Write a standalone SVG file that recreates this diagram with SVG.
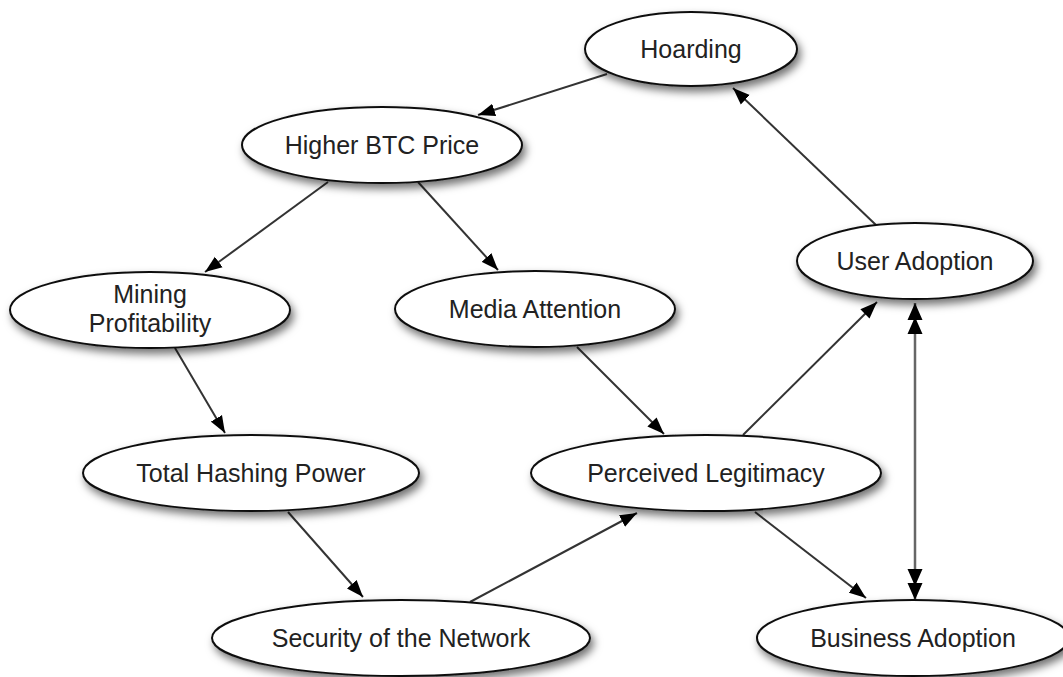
<svg xmlns="http://www.w3.org/2000/svg" width="1063" height="677" viewBox="0 0 1063 677">
<style>
.node ellipse{fill:#fff;stroke:#111;stroke-width:2;filter:url(#sh)}
.node text{font-family:"Liberation Sans",Arial,Helvetica,sans-serif;font-size:25px;fill:#222;text-anchor:middle}
.edge{stroke:#333;stroke-width:2;fill:none;marker-end:url(#ah)}
.dbl{stroke:#666;stroke-width:2.5;fill:none;marker-end:url(#ah2);marker-start:url(#ah2)}
</style>
<defs>
<filter id="sh" x="-20%" y="-30%" width="140%" height="170%">
<feDropShadow dx="3" dy="5" stdDeviation="4" flood-color="#000" flood-opacity="0.55"/>
</filter>
<marker id="ah" markerUnits="userSpaceOnUse" markerWidth="18" markerHeight="14" viewBox="0 0 18 14" refX="17" refY="7" orient="auto">
<path d="M0,0.5 L17,7 L0,13.5 z" fill="#000"/>
</marker>
<marker id="ah2" markerUnits="userSpaceOnUse" markerWidth="40" markerHeight="16" viewBox="0 0 40 16" refX="36" refY="8" orient="auto-start-reverse">
<path d="M19,0.5 L36,8 L19,15.5 z M5,0.5 L22,8 L5,15.5 z" fill="#000"/>
</marker>
</defs>
<g id="connectors">
<line class="edge" x1="607" y1="74" x2="478" y2="115"/>
<line class="edge" x1="328" y1="182" x2="205" y2="272"/>
<line class="edge" x1="418" y1="182" x2="498" y2="270"/>
<line class="edge" x1="876" y1="225" x2="733" y2="88"/>
<line class="edge" x1="175" y1="348" x2="225" y2="433"/>
<line class="edge" x1="577" y1="347" x2="664" y2="434"/>
<line class="edge" x1="743" y1="435" x2="877" y2="302"/>
<line class="edge" x1="288" y1="512" x2="363" y2="597"/>
<line class="edge" x1="470" y1="602" x2="637" y2="513"/>
<line class="edge" x1="755" y1="512" x2="866" y2="598"/>
<line class="dbl" x1="915" y1="303" x2="915" y2="600"/>
</g>
<g id="hoarding" class="node"><ellipse cx="691" cy="49" rx="106" ry="37"/><text x="691" y="58">Hoarding</text></g>
<g id="higher-btc-price" class="node"><ellipse cx="382" cy="145" rx="140" ry="38"/><text x="382" y="154">Higher BTC Price</text></g>
<g id="mining-profitability" class="node"><ellipse cx="150" cy="310" rx="140" ry="38"/><text x="150" y="303">Mining</text><text x="150" y="332">Profitability</text></g>
<g id="media-attention" class="node"><ellipse cx="535" cy="309" rx="140" ry="38"/><text x="535" y="318">Media Attention</text></g>
<g id="user-adoption" class="node"><ellipse cx="915" cy="261" rx="118" ry="38"/><text x="915" y="270">User Adoption</text></g>
<g id="total-hashing-power" class="node"><ellipse cx="251" cy="473" rx="168" ry="38"/><text x="251" y="482">Total Hashing Power</text></g>
<g id="perceived-legitimacy" class="node"><ellipse cx="706" cy="473" rx="175" ry="38"/><text x="706" y="482">Perceived Legitimacy</text></g>
<g id="security-of-the-network" class="node"><ellipse cx="401" cy="638" rx="189" ry="38"/><text x="401" y="647">Security of the Network</text></g>
<g id="business-adoption" class="node"><ellipse cx="913" cy="638" rx="156" ry="38"/><text x="913" y="647">Business Adoption</text></g>
</svg>
